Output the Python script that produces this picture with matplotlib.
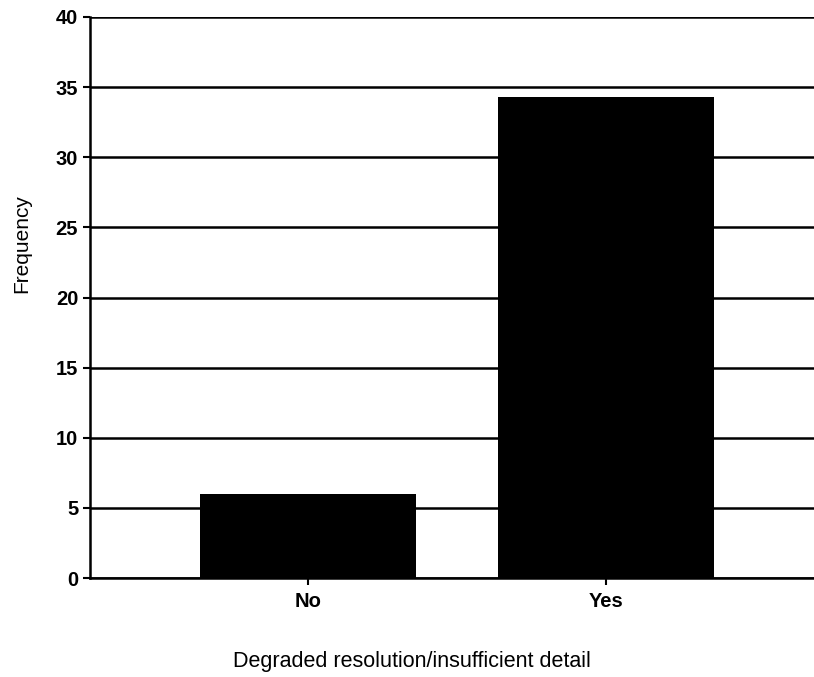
import matplotlib
matplotlib.use("Agg")
import matplotlib.pyplot as plt

categories = ["No", "Yes"]
frequency = [6, 34.3]
yticks = [0, 5, 10, 15, 20, 25, 30, 35, 40]

plt.rcParams['font.family'] = ['Liberation Sans', 'DejaVu Sans']

fig = plt.figure(figsize=(8.14, 6.77), dpi=100)
ax = fig.add_axes([90/814, 1-578/677, 1-90/814, (578-17)/677])

x = list(range(len(categories)))
ax.bar(x, frequency, width=0.725, color='black', zorder=3)
ax.set_xlim(-0.732, 1.698)
ax.set_ylim(0, 40)
ax.set_yticks(yticks)
ax.set_xticks(x)
ax.set_xticklabels(categories)
ax.yaxis.grid(True, color='black', linewidth=1.8, zorder=1)
ax.set_axisbelow(True)
for s in ['top', 'right']:
    ax.spines[s].set_visible(False)
ax.spines['left'].set_linewidth(1.8)
ax.spines['bottom'].set_linewidth(1.8)
ax.tick_params(axis='y', length=5, width=1.5, labelsize=14.5, pad=3.5)
ax.tick_params(axis='x', length=5, width=1.5, labelsize=14.5, pad=5)
for lab in ax.get_yticklabels() + ax.get_xticklabels():
    lab.set_fontweight('semibold')

fig.text(22/814, 1-244/677, "Frequency", rotation=90, fontsize=15,
         ha='center', va='center')
fig.text(412/814, 1-661/677, "Degraded resolution/insufficient detail",
         fontsize=15.5, ha='center', va='center')

fig.savefig("out.png", dpi=100)
